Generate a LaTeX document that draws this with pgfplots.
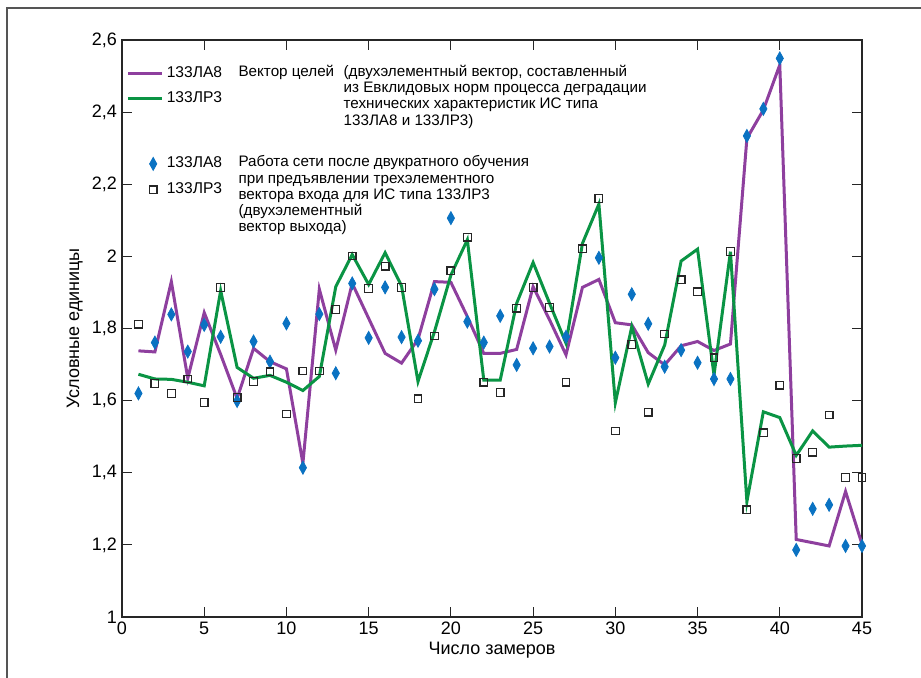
\documentclass[border=0pt]{standalone}
\usepackage{fontspec}
\setmainfont{Liberation Sans}
\usepackage{pgfplots}
\pgfplotsset{compat=1.18}

\definecolor{lpurple}{HTML}{8E3F9E}
\definecolor{lgreen}{HTML}{0A9444}
\definecolor{mblue}{HTML}{0A72C2}
\definecolor{frame}{HTML}{555555}

\begin{document}
\begin{tikzpicture}
\begin{axis}[
    scale only axis,
    width=370pt, height=288.5pt,
    xmin=0, xmax=45, ymin=1, ymax=2.6,
    xtick={0,5,...,45},
    ytick={1,1.2,...,2.6},
    tick align=inside,
    major tick length=5pt,
    axis line style={black!85, line width=0.9pt},
    tick style={black!85, line width=0.6pt},
    /pgf/number format/assume math mode=true,
    /pgf/number format/use comma,
    /pgf/number format/fixed,
    /pgf/number format/precision=1,
    ticklabel style={font=\fontsize{9}{10}\selectfont},
    xticklabel style={yshift=1pt},
    yticklabel style={xshift=1pt},
    xlabel={Число замеров},
    ylabel={Условные единицы},
    label style={font=\fontsize{9}{10}\selectfont},
    xlabel style={at={(axis description cs:0.5,-0.058)}, anchor=center},
    ylabel style={at={(axis description cs:-0.064,0.5)}, anchor=center},
    legend style={draw=none, fill=none, at={(rel axis cs:0.003,0.964)}, anchor=north west,
        font=\fontsize{7.8}{9}\selectfont, row sep=3pt, inner sep=1pt,
        nodes={inner sep=1.5pt}},
    legend cell align=left,
    clip=false,
]
\addlegendimage{lpurple, line width=1.5pt}
\addlegendentry{133ЛА8}
\addlegendimage{lgreen, line width=1.5pt}
\addlegendentry{133ЛР3}
\addlegendimage{empty legend}
\addlegendentry{\rule{0pt}{12pt}}
\addlegendimage{only marks, mark=diamond*, mark size=2.4pt, mark options={xshift=4pt, yscale=1.35, fill=mblue, draw=mblue}}
\addlegendentry{133ЛА8}
\addlegendimage{only marks, mark=square, mark size=1.9pt, mark options={xshift=4pt, draw=black!85, line width=0.6pt}}
\addlegendentry{133ЛР3}

% vector of targets, 133LA8
\addplot[lpurple, line width=1.5pt, forget plot] coordinates {
(1,1.738) (2,1.735) (3,1.930) (4,1.662) (5,1.844) (6,1.728) (7,1.606) (8,1.745) (9,1.708) (10,1.688)
(11,1.426) (12,1.909) (13,1.740) (14,1.925) (15,1.828) (16,1.731) (17,1.704) (18,1.770) (19,1.930) (20,1.928)
(21,1.833) (22,1.731) (23,1.731) (24,1.742) (25,1.916) (26,1.824) (27,1.727) (28,1.914) (29,1.936) (30,1.816)
(31,1.810) (32,1.733) (33,1.699) (34,1.752) (35,1.764) (36,1.739) (37,1.757) (38,2.327) (39,2.406) (40,2.531)
(41,1.215) (42,1.206) (43,1.197) (44,1.348) (45,1.202)
};
% vector of targets, 133LR3
\addplot[lgreen, line width=1.5pt, forget plot] coordinates {
(1,1.673) (2,1.660) (3,1.659) (4,1.651) (5,1.641) (6,1.905) (7,1.692) (8,1.662) (9,1.670) (10,1.651)
(11,1.628) (12,1.667) (13,1.916) (14,2.005) (15,1.922) (16,2.010) (17,1.918) (18,1.653) (19,1.791) (20,1.948)
(21,2.046) (22,1.657) (23,1.657) (24,1.870) (25,1.983) (26,1.870) (27,1.759) (28,2.036) (29,2.145) (30,1.594)
(31,1.805) (32,1.646) (33,1.754) (34,1.987) (35,2.020) (36,1.671) (37,2.013) (38,1.320) (39,1.569) (40,1.553)
(41,1.448) (42,1.516) (43,1.471) (44,1.474) (45,1.476)
};
% network output, 133LA8
\addplot[only marks, mark=diamond*, mark size=2.4pt, mark options={yscale=1.35, fill=mblue, draw=mblue}, forget plot] coordinates {
(1,1.620) (2,1.761) (3,1.839) (4,1.736) (5,1.810) (6,1.777) (7,1.599) (8,1.764) (9,1.708) (10,1.814)
(11,1.414) (12,1.840) (13,1.676) (14,1.925) (15,1.774) (16,1.914) (17,1.776) (18,1.766) (19,1.909) (20,2.106)
(21,1.819) (22,1.761) (23,1.835) (24,1.699) (25,1.745) (26,1.750) (27,1.777) (29,1.996) (30,1.719)
(31,1.895) (32,1.813) (33,1.694) (34,1.740) (35,1.705) (36,1.660) (37,1.660) (38,2.334) (39,2.409) (40,2.549)
(41,1.186) (42,1.300) (43,1.311) (44,1.197) (45,1.197)
};
% network output, 133LR3
\addplot[only marks, mark=square, mark size=1.9pt, mark options={draw=black!85, line width=0.6pt}, forget plot] coordinates {
(1,1.812) (2,1.648) (3,1.620) (4,1.660) (5,1.595) (6,1.914) (7,1.609) (8,1.653) (9,1.680) (10,1.563)
(11,1.682) (12,1.682) (13,1.853) (14,2.001) (15,1.911) (16,1.973) (17,1.914) (18,1.605) (19,1.779) (20,1.960)
(21,2.053) (22,1.651) (23,1.623) (24,1.856) (25,1.914) (26,1.858) (27,1.651) (28,2.021) (29,2.161) (30,1.516)
(31,1.756) (32,1.568) (33,1.785) (34,1.935) (35,1.902) (36,1.719) (37,2.013) (38,1.297) (39,1.511) (40,1.643)
(41,1.440) (42,1.457) (43,1.560) (44,1.387) (45,1.387)
};

\node[anchor=north west, align=left, font=\fontsize{7.6}{8.1}\selectfont, inner sep=0pt]
  at (axis description cs:0.157,0.957) {Вектор целей};
\node[anchor=north west, align=left, font=\fontsize{7.6}{8.1}\selectfont, inner sep=0pt]
  at (axis description cs:0.299,0.957) {(двухэлементный вектор, составленный\\из Евклидовых норм процесса деградации\\технических характеристик ИС типа\\133ЛА8 и 133ЛР3)};
\node[anchor=north west, align=left, font=\fontsize{7.6}{8.1}\selectfont, inner sep=0pt]
  at (axis description cs:0.157,0.80) {Работа сети после двукратного обучения\\при предъявлении трехэлементного\\вектора входа для ИС типа 133ЛР3\\(двухэлементный\\вектор выхода)};
\end{axis}
\pgfresetboundingbox
\path[use as bounding box] (-61pt,-30.5pt) rectangle (399.5pt,308.5pt);
\draw[frame, line width=0.8pt] (-57.5pt,-31pt) -- (-57.5pt,304.5pt) -- (400pt,304.5pt);
\end{tikzpicture}
\end{document}
